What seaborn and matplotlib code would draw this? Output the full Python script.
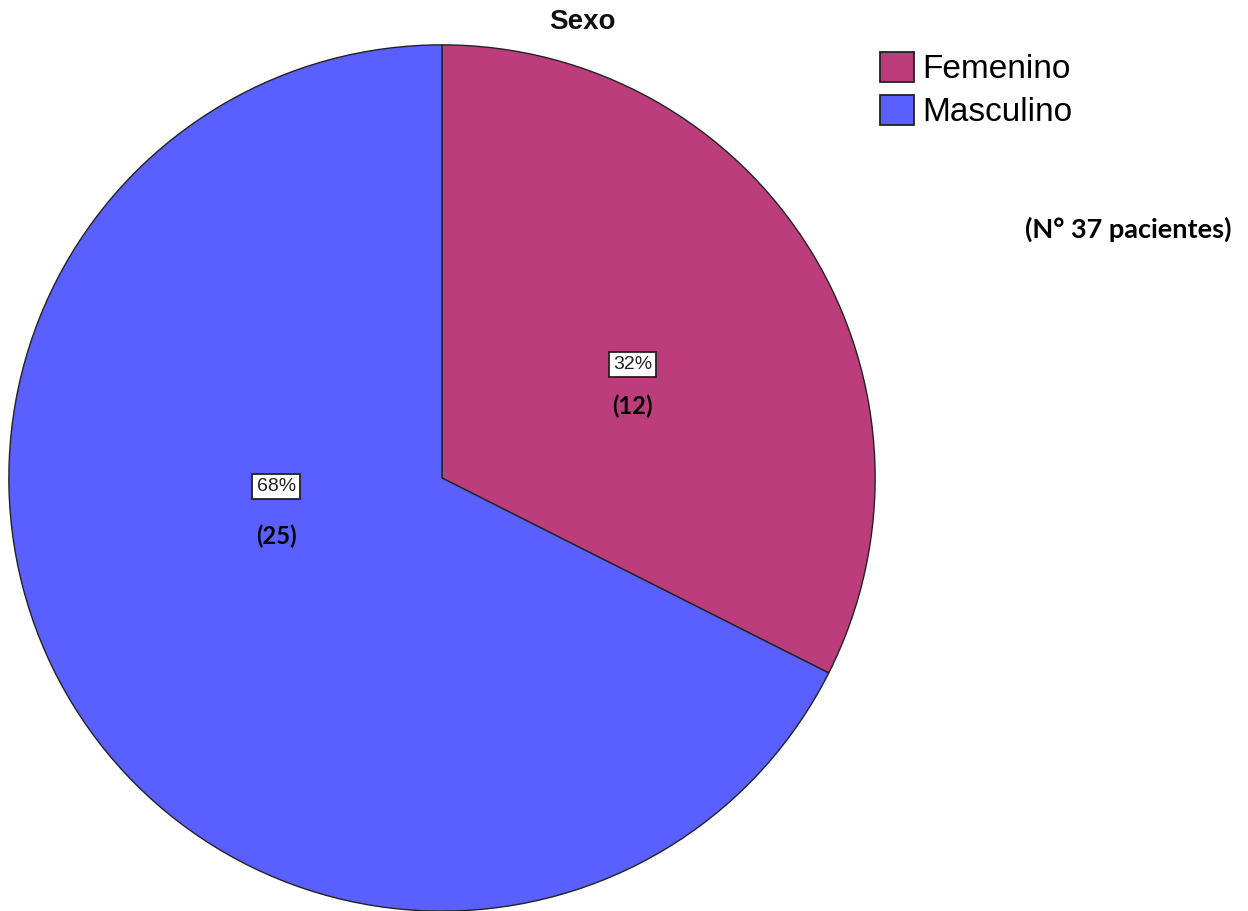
import matplotlib
matplotlib.use("Agg")
import matplotlib.pyplot as plt
import seaborn as sns
from matplotlib.patches import Patch

categories = ["Femenino", "Masculino"]
counts = [12, 25]
colors = ["#BB3D7C", "#5A5FFF"]
title = "Sexo"
note = "(N° 37 pacientes)"

sns.set_theme(style="white")
plt.rcParams['font.family'] = ['Liberation Sans', 'DejaVu Sans']

W, H = 1248, 911
fig = plt.figure(figsize=(W / 100, H / 100), dpi=100)
cx, cy, R = 442, 478, 434
ax = fig.add_axes([(cx - R) / W, (H - cy - R) / H, 2 * R / W, 2 * R / H])
ax.axis('off')

wedges, _ = ax.pie(counts, colors=colors, startangle=90, counterclock=False,
                   radius=1.0, center=(0, 0), frame=False,
                   wedgeprops=dict(edgecolor="#222222", linewidth=1.0))
ax.set_aspect('equal')
ax.set_xlim(-1.002, 1.002)
ax.set_ylim(-1.002, 1.002)

total = sum(counts)
# label anchor positions (reference pixels: centre x, baseline y)
pct_pos = [(633, 369), (276, 491)]
cnt_pos = [(633, 414), (276, 544)]
for c, (px, py), (qx, qy) in zip(counts, pct_pos, cnt_pos):
    ax.text((px - cx) / R, (cy - py) / R, f"{round(100 * c / total)}%",
            ha='center', va='baseline', fontsize=14, color="#222222",
            family=['Liberation Sans'],
            bbox=dict(boxstyle='square,pad=0.22', facecolor='white',
                      edgecolor='#222222', linewidth=1.3))
    ax.text((qx - cx) / R, (cy - qy) / R, f"({c})",
            ha='center', va='baseline', fontsize=17, fontweight='bold',
            color='black', family=['Lato', 'DejaVu Sans'])

fig.text(582 / W, 1 - 29 / H, title, ha='center', va='baseline',
         fontsize=20, fontweight='bold', color='#111111',
         family=['Liberation Sans'])

fig.text(1128 / W, 1 - 238 / H, note, ha='center', va='baseline',
         fontsize=19.5, fontweight='bold', color='black',
         family=['Lato', 'DejaVu Sans'])

handles = [Patch(facecolor=col, edgecolor='#222222', linewidth=1.3) for col in colors]
fig.legend(handles, categories, loc='upper left',
           bbox_to_anchor=(880 / W, 1 - 52 / H), frameon=False,
           fontsize=24, handlelength=1.02, handleheight=1.0,
           handletextpad=0.25, labelspacing=0.28, borderpad=0,
           borderaxespad=0, labelcolor='black')

fig.savefig("out.png", dpi=100, facecolor='white')
